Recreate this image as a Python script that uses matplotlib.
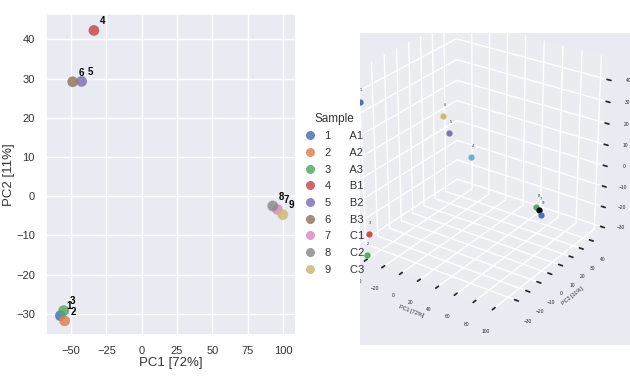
import matplotlib
matplotlib.use("Agg")
import matplotlib.pyplot as plt
import seaborn as sns
from matplotlib.lines import Line2D
from matplotlib.patches import Rectangle

sns.set_theme(style="darkgrid")
plt.rcParams['font.family'] = ['Liberation Sans', 'DejaVu Sans']

# ---- data ----
sample_ids = ["1", "2", "3", "4", "5", "6", "7", "8", "9"]
sample_names = ["A1", "A2", "A3", "B1", "B2", "B3", "C1", "C2", "C3"]
pc1 = [-57.5, -54.5, -55.2, -33.8, -42.5, -48.8, 96.0, 92.7, 99.8]
pc2 = [-30.5, -31.8, -29.2, 42.3, 29.3, 29.2, -3.4, -2.5, -4.7]
# 3D panel
pc1_3d = [-57.5, -54.5, -55.2, -26.9, -36.6, -43.7, 98.2, 94.9, 102.0]
pc2_3d = [-30.5, -31.8, -29.2, 40.0, 27.0, 27.2, -2.5, -1.6, -3.8]
pc3_3d = [35.0, -36.6, -27.4, -10.4, 4.6, 12.0, -2.9, -2.4, -3.9]
colors_3d = ['#4C72B0', '#55A868', '#C44E52', '#64B5CD', '#8172B2', '#CCB974',
             '#000000', '#55A868', '#4C72B0']

palette = sns.color_palette("deep", 10)
pal = [palette[i] for i in range(9)]

fig = plt.figure(figsize=(6.3, 3.78), dpi=100)
fig.patch.set_facecolor('white')

# ---- 2D PCA ----
ax = fig.add_axes([0.073, 0.114, 0.397, 0.849])
for i in range(len(pc1)):
    ax.scatter(pc1[i], pc2[i], s=60, color=pal[i], alpha=0.85, edgecolors='none')
    ax.annotate(sample_ids[i], (pc1[i], pc2[i]), xytext=(4.5, 4.5), textcoords='offset points',
                fontsize=7, fontweight='bold', color='black')
ax.set_xlim(-67.7, 109.2)
ax.set_ylim(-35.4, 46.5)
ax.set_xticks([-50, -25, 0, 25, 50, 75, 100])
ax.set_yticks([-30, -20, -10, 0, 10, 20, 30, 40])
ax.tick_params(labelsize=8, colors='#333333', pad=2)
ax.set_xlabel("PC1 [72%]", fontsize=9.5, color='#333333', labelpad=1)
ax.set_ylabel("PC2 [11%]", fontsize=9.5, color='#333333', labelpad=1)

# ---- 3D PCA ----
fig.add_artist(Rectangle((360 / 630, 33 / 378), 270 / 630, 312 / 378,
                         transform=fig.transFigure, facecolor='#EAEAF2',
                         edgecolor='none', zorder=-1))
ax3 = fig.add_axes([0.5385, 0.1616, 0.4286, 0.825], projection='3d')
ax3.patch.set_alpha(0.0)
ax3.set_facecolor((0, 0, 0, 0))
for i in range(len(pc1_3d)):
    ax3.scatter(pc1_3d[i], pc2_3d[i], pc3_3d[i], s=12, color=colors_3d[i], depthshade=False)
    ax3.text(pc1_3d[i] + 1, pc2_3d[i], pc3_3d[i] + 5, sample_ids[i], fontsize=3, color='#333333')
ax3.set_xlim(-58, 108)
ax3.set_ylim(-42, 51)
ax3.set_zlim(-32.4, 50)
ax3.set_xticks([-40, -20, 0, 20, 40, 60, 80, 100])
ax3.set_yticks([-30, -20, -10, 0, 10, 20, 30, 40])
ax3.set_zticks([-30, -20, -10, 0, 10, 20, 30, 40])
ax3.tick_params(labelsize=3.5, pad=0)
ax3.set_xlabel("PC1 [72%]", fontsize=4, labelpad=-9)
ax3.set_ylabel("PC2 [11%]", fontsize=4, labelpad=-9)
ax3.set_zlabel("PC3 [8%]", fontsize=4, labelpad=-9)
for a in (ax3.xaxis, ax3.yaxis, ax3.zaxis):
    a.set_pane_color((0.92, 0.92, 0.95, 1.0))
    a.line.set_color((1, 1, 1, 0))
ax3.view_init(elev=27, azim=-55)
ax3.set_box_aspect((1, 1, 1.063), zoom=1.18)

# white margins that crop the 3D panel
for (x0, y0, w, h) in [(300, 0, 60, 378), (300, 345, 330, 33), (300, 0, 330, 33)]:
    fig.add_artist(Rectangle((x0 / 630, 1 - (y0 + h) / 378), w / 630, h / 378,
                             transform=fig.transFigure, facecolor='white',
                             edgecolor='none', zorder=5))

handles = [Line2D([0], [0], marker='o', linestyle='', markersize=6.5,
                  markerfacecolor=pal[i], markeredgecolor='none', alpha=0.85)
           for i in range(len(sample_ids))]
labels = [f"{sample_ids[i]}      {sample_names[i]}" for i in range(len(sample_ids))]
leg = fig.legend(handles, labels, title="Sample", loc='upper left',
                 bbox_to_anchor=(0.482, 0.702), frameon=False, fontsize=8,
                 title_fontsize=8.5, labelspacing=0.6, handletextpad=0.7,
                 handlelength=1.2, borderaxespad=0, borderpad=0)
leg.set_zorder(10)
for t in leg.get_texts():
    t.set_color('#333333')
leg.get_title().set_color('#333333')

fig.savefig("out.png", dpi=100, facecolor='white')
